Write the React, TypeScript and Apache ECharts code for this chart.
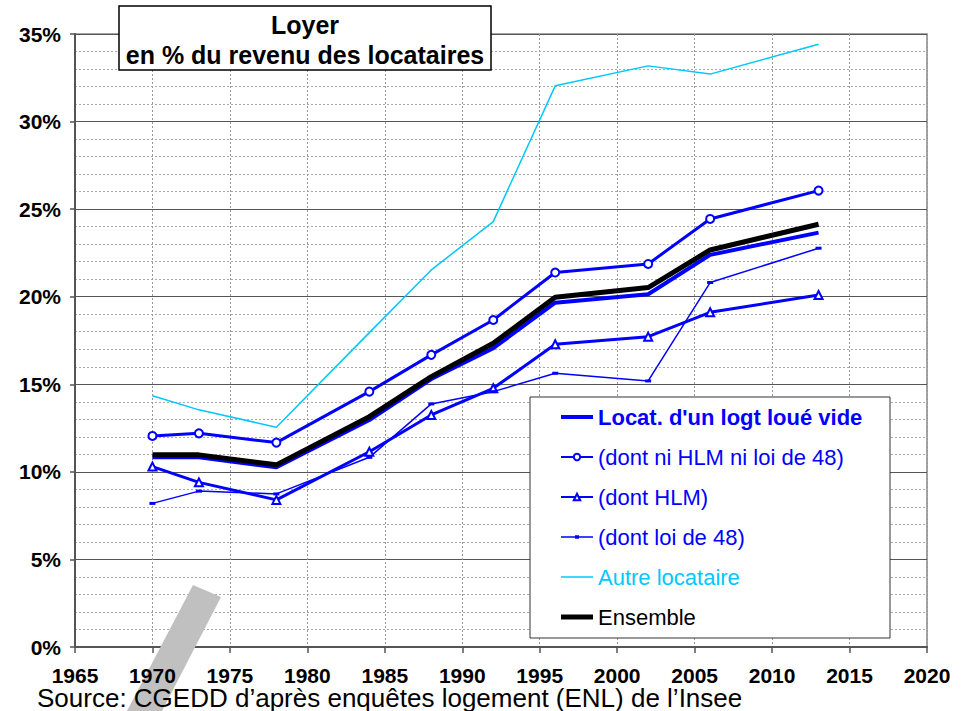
import React, { useEffect, useRef } from "react";
import * as echarts from "echarts";

const years = [1970, 1973, 1978, 1984, 1988, 1992, 1996, 2002, 2006, 2013];
const locatVide = [10.83, 10.83, 10.26, 12.96, 15.3, 17.06, 19.66, 20.14, 22.39, 23.66];
const niHlmNiLoi48 = [12.05, 12.2, 11.67, 14.58, 16.68, 18.67, 21.38, 21.87, 24.44, 26.06];
const hlm = [10.3, 9.4, 8.4, 11.15, 13.25, 14.77, 17.29, 17.72, 19.11, 20.1];
const loi48 = [8.2, 8.9, 8.74, 10.83, 13.88, 14.58, 15.63, 15.19, 20.81, 22.77];
const autreLocataire = [14.35, 13.54, 12.55, 17.95, 21.53, 24.29, 32.04, 33.18, 32.71, 34.42];
const ensemble = [10.97, 10.97, 10.4, 13.15, 15.44, 17.34, 19.97, 20.52, 22.67, 24.14];

const seriesNames = [
  "Locat. d'un logt loué vide",
  "(dont ni HLM ni loi de 48)",
  "(dont HLM)",
  "(dont loi de 48)",
  "Autre locataire",
  "Ensemble",
];

const titleLines = ["Loyer", "en % du revenu des locataires"];
const sourceText = "Source: CGEDD d\u2019apr\u00e8s enqu\u00eates logement (ENL) de l\u2019Insee";

const FONT = "'Liberation Sans', Arial, sans-serif";
const BLUE = "#0000ff";
const CYAN = "#00c8ff";

const pairs = (vals: number[]) => years.map((y, i) => [y, vals[i]]);

export default function App() {
  const ref = useRef<HTMLDivElement>(null);
  useEffect(() => {
    if (!ref.current) return;
    const chart = echarts.init(ref.current, null, { renderer: "svg" });
    const option: any = {
      animation: false,
      backgroundColor: "#fff",
      grid: {
        left: 75,
        right: 41,
        top: 34,
        bottom: 64,
        show: true,
        borderColor: "#888",
        borderWidth: 1.5,
        backgroundColor: "transparent",
      },
      xAxis: [
        {
          type: "value",
          min: 1965,
          max: 2020,
          interval: 5,
          position: "bottom",
          axisLine: { show: true, lineStyle: { color: "#555", width: 2 } },
          axisTick: { show: true, length: 6, lineStyle: { color: "#555", width: 1.5 } },
          axisLabel: { show: false },
          splitLine: { show: true, lineStyle: { color: "#999", type: [2, 2], width: 1 } },
        },
        {
          type: "value",
          min: 1965,
          max: 2020,
          interval: 5,
          position: "bottom",
          z: 4,
          axisLine: { show: false },
          axisTick: { show: false },
          axisLabel: {
            show: true,
            fontSize: 21,
            lineHeight: 18,
            fontWeight: "bold",
            color: "#000",
            fontFamily: FONT,
            margin: 19,
            formatter: (v: number) => String(v),
          },
          splitLine: { show: false },
        },
      ],
      yAxis: {
        type: "value",
        min: 0,
        max: 35,
        interval: 5,
        axisLine: { show: true, lineStyle: { color: "#555", width: 2 } },
        axisTick: { show: true, length: 5, lineStyle: { color: "#555", width: 1.5 } },
        axisLabel: {
          fontSize: 21,
          fontWeight: "bold",
          color: "#000",
          fontFamily: FONT,
          margin: 14,
          formatter: "{value}%",
        },
        splitLine: { show: true, lineStyle: { color: "#555", width: 1 } },
        minorTick: { show: false, splitNumber: 5 },
        minorSplitLine: { show: true, lineStyle: { color: "#aaa", type: [2, 2], width: 1 } },
      },
      legend: {
        orient: "vertical",
        left: 560,
        top: 406,
        padding: 0,
        itemGap: 18,
        itemWidth: 32,
        itemHeight: 8,
        selectedMode: false,
        z: 6,
        textStyle: { fontSize: 22, fontFamily: FONT, lineHeight: 22, color: BLUE },
        data: [
          { name: seriesNames[0], icon: "path://M0,0H8V1H0Z", textStyle: { color: BLUE, fontWeight: "bold" } },
          { name: seriesNames[1], textStyle: { color: BLUE } },
          { name: seriesNames[2], textStyle: { color: BLUE } },
          { name: seriesNames[3], icon: "path://M0,3H32V4.5H0Z M14,2H18V5.5H14Z", textStyle: { color: BLUE } },
          { name: seriesNames[4], icon: "path://M0,0H64V3H0Z", textStyle: { color: CYAN } },
          { name: seriesNames[5], icon: "path://M0,0H32V5H0Z", textStyle: { color: "#000" } },
        ],
      },
      series: [
        {
          name: seriesNames[0],
          type: "line",
          data: pairs(locatVide),
          color: BLUE,
          symbol: "none",
          lineStyle: { width: 4, color: BLUE },
          z: 3,
        },
        {
          name: seriesNames[1],
          type: "line",
          data: pairs(niHlmNiLoi48),
          color: BLUE,
          symbol: "emptyCircle",
          symbolSize: 8,
          itemStyle: { color: BLUE, borderWidth: 1.5 },
          lineStyle: { width: 3, color: BLUE },
          z: 3,
        },
        {
          name: seriesNames[2],
          type: "line",
          data: pairs(hlm),
          color: BLUE,
          symbol: "emptyTriangle",
          symbolSize: 8,
          itemStyle: { color: BLUE, borderWidth: 1.5 },
          lineStyle: { width: 3, color: BLUE },
          z: 3,
        },
        {
          name: seriesNames[3],
          type: "line",
          data: pairs(loi48),
          color: BLUE,
          symbol: "rect",
          symbolSize: [6, 3],
          itemStyle: { color: BLUE },
          lineStyle: { width: 1.5, color: BLUE },
          z: 3,
        },
        {
          name: seriesNames[4],
          type: "line",
          data: pairs(autreLocataire),
          color: CYAN,
          symbol: "none",
          lineStyle: { width: 1.5, color: CYAN },
          z: 3,
        },
        {
          name: seriesNames[5],
          type: "line",
          data: pairs(ensemble),
          color: "#000",
          symbol: "none",
          lineStyle: { width: 5, color: "#000" },
          z: 3,
        },
      ],
      graphic: [
        {
          type: "polygon",
          z: 2,
          shape: { points: [[193, 585], [221, 597], [162, 711], [127, 711]] },
          style: { fill: "#c0c0c0" },
        },
        {
          type: "rect",
          z: 5,
          shape: { x: 530, y: 397, width: 360, height: 241 },
          style: { fill: "#fff", stroke: "#333", lineWidth: 1 },
        },
        {
          type: "rect",
          z: 5,
          shape: { x: 119, y: 6, width: 372, height: 64 },
          style: { fill: "#fff", stroke: "#000", lineWidth: 1.5 },
        },
        {
          type: "text",
          z: 6,
          x: 305,
          y: 25,
          style: {
            text: titleLines[0],
            fill: "#000",
            font: `bold 25px ${FONT}`,
            textAlign: "center",
            textVerticalAlign: "middle",
          },
        },
        {
          type: "text",
          z: 6,
          x: 305,
          y: 55,
          style: {
            text: titleLines[1],
            fill: "#000",
            font: `bold 25px ${FONT}`,
            textAlign: "center",
            textVerticalAlign: "middle",
          },
        },
        {
          type: "text",
          z: 6,
          x: 37,
          y: 697.5,
          style: {
            text: sourceText,
            fill: "#000",
            font: `26px ${FONT}`,
            textAlign: "left",
            textVerticalAlign: "middle",
          },
        },
      ],
    };
    chart.setOption(option);
    return () => chart.dispose();
  }, []);
  return (
    <div
      ref={ref}
      style={{ position: "fixed", left: 0, top: 0, width: 968, height: 711 }}
    />
  );
}
